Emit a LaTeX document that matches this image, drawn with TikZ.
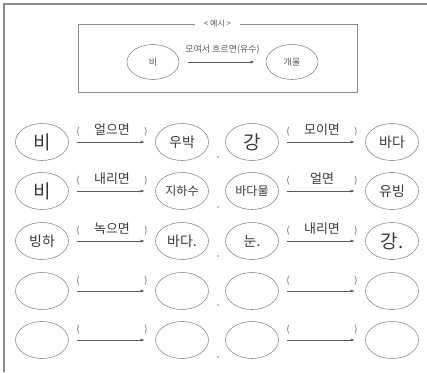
\documentclass[tikz,border=0pt]{standalone}
\usepackage{fontspec}
\setmainfont{Noto Sans CJK KR}
\usetikzlibrary{arrows.meta,shapes.geometric}
\definecolor{frame}{HTML}{8C8C8C}
\definecolor{pencil}{HTML}{3A3A3A}
\definecolor{print}{HTML}{5A5A5A}
\newcommand{\paren}[1]{{\color{print}\fontsize{9}{9}\selectfont#1}}
\newcommand{\blank}[1]{\paren{(}\hfill#1\hfill\paren{)}}

\begin{document}
\begin{tikzpicture}[
    x=1pt, y=-1pt,
    >={Latex[length=4pt,width=3pt]},
    bubble/.style={ellipse, draw=frame, line width=0.6pt, minimum width=53pt,
                   minimum height=37pt, inner sep=0pt, text=pencil,
                   font=\fontsize{14}{14}\selectfont},
    big/.style={font=\fontsize{19}{19}\selectfont},
    small/.style={font=\fontsize{12}{12}\selectfont},
    exbubble/.style={bubble, minimum width=52pt, minimum height=35pt,
                     text=print, font=\fontsize{9}{9}\selectfont},
    sig/.style={->, draw=print, line width=0.5pt, shorten <=8.5pt, shorten >=10.5pt},
    gap/.style={midway, above=5pt, text width=71pt, inner sep=0pt,
                font=\fontsize{13}{13}\selectfont, text=pencil},
    dot/.style={circle, fill=frame, inner sep=0pt, minimum size=1.6pt},
  ]
  \useasboundingbox (0,0) rectangle (427,372);

  % Sheet edges.
  \draw[frame, line width=1.2pt] (4,372) -- (4,4) -- (427,4);

  % Example box.
  \node[draw=frame, line width=0.6pt, minimum width=279pt, minimum height=68pt]
    (exbox) at (217.5,58) {};
  \node[fill=white, text=print, font=\fontsize{8}{8}\selectfont, inner xsep=9pt]
    (extitle) at (exbox.north) {<\ 예시\ >};
  \node[exbubble] (exa) at (153,62) {비};
  \node[exbubble] (exb) at (292,62) {개울};
  \draw[sig, shorten <=9pt, shorten >=11pt] (exa) -- (exb)
    node[midway, above=4pt, text=print, font=\fontsize{9}{9}\selectfont] {모여서 흐르면(유수)};

  % Row 1.
  \node[bubble, big] (a1) at (42,142) {비};
  \node[bubble] (b1) at (182,142) {우박};
  \draw[sig] (a1) -- (b1) node[gap] {\blank{얼으면}};
  \node[bubble, big] (c1) at (252,142) {강};
  \node[bubble] (d1) at (392,142) {바다};
  \draw[sig] (c1) -- (d1) node[gap] {\blank{모이면}};
  \node[dot] (m1) at (218,157) {};

  % Row 2.
  \node[bubble, big] (a2) at (42,191) {비};
  \node[bubble, small] (b2) at (182,191) {지하수};
  \draw[sig] (a2) -- (b2) node[gap] {\blank{내리면}};
  \node[bubble, small] (c2) at (252,191) {바다물};
  \node[bubble] (d2) at (392,191) {유빙};
  \draw[sig] (c2) -- (d2) node[gap] {\blank{얼면}};
  \node[dot] (m2) at (218,207) {};

  % Row 3.
  \node[bubble] (a3) at (42,241) {빙하};
  \node[bubble] (b3) at (182,241) {바다.};
  \draw[sig] (a3) -- (b3) node[gap] {\blank{녹으면}};
  \node[bubble] (c3) at (252,241) {눈.};
  \node[bubble, big] (d3) at (392,241) {강.};
  \draw[sig] (c3) -- (d3) node[gap] {\blank{내리면}};
  \node[dot] (m3) at (218,256) {};

  % Row 4 (empty).
  \node[bubble] (a4) at (42,291) {};
  \node[bubble] (b4) at (182,291) {};
  \draw[sig] (a4) -- (b4) node[gap] {\blank{}};
  \node[bubble] (c4) at (252,291) {};
  \node[bubble] (d4) at (392,291) {};
  \draw[sig] (c4) -- (d4) node[gap] {\blank{}};
  \node[dot] (m4) at (218,305) {};

  % Row 5 (empty).
  \node[bubble] (a5) at (42,340) {};
  \node[bubble] (b5) at (182,340) {};
  \draw[sig] (a5) -- (b5) node[gap] {\blank{}};
  \node[bubble] (c5) at (252,340) {};
  \node[bubble] (d5) at (392,340) {};
  \draw[sig] (c5) -- (d5) node[gap] {\blank{}};
  \node[dot] (m5) at (218,357) {};
\end{tikzpicture}
\end{document}
